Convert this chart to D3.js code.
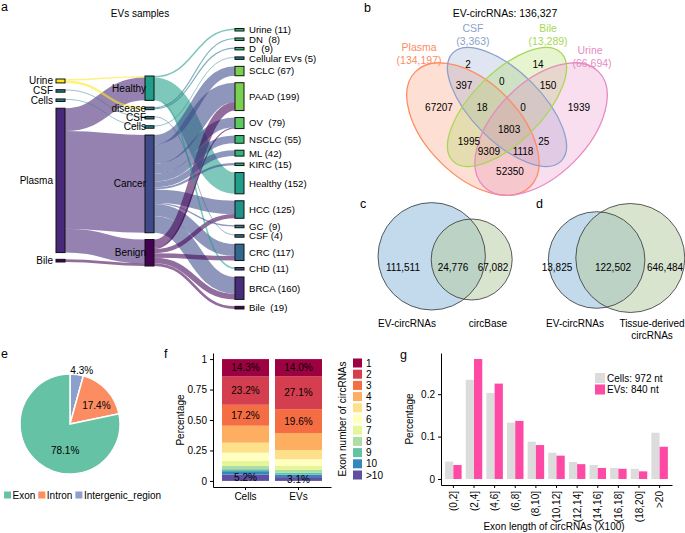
<!DOCTYPE html>
<html>
<head>
<meta charset="utf-8">
<script src="https://cdn.jsdelivr.net/npm/d3@7"></script>
<style>
  html, body { margin: 0; padding: 0; background: #fff; }
  svg { display: block; font-family: "Liberation Sans", Arial, Helvetica, sans-serif; }
  text { white-space: pre; fill: #000; }
</style>
</head>
<body>
<svg id="fig" width="685" height="533"></svg>
<script>
// ---------- a: EV samples (sankey) ----------
const sankeyLeft = ['Urine', 'CSF', 'Cells', 'Plasma', 'Bile'];
const sankeyMiddle = ['Healthy', 'disease', 'CSF', 'Cells', 'Cancer', 'Benign'];
const sankeyRight = ['Urine (11)', 'DN  (8)', 'D  (9)', 'Cellular EVs (5)', 'SCLC (67)', 'PAAD (199)', 'OV  (79)',
	'NSCLC (55)', 'ML (42)', 'KIRC (15)', 'Healthy (152)', 'HCC (125)', 'GC  (9)', 'CSF (4)', 'CRC (117)',
	'CHD (11)', 'BRCA (160)', 'Bile  (19)'];
const flowsLeftMiddle = [
	['Urine', 'Healthy', 11], ['Urine', 'disease', 17], ['CSF', 'CSF', 4], ['Cells', 'Cells', 5],
	['Plasma', 'Healthy', 163], ['Plasma', 'Cancer', 698], ['Plasma', 'Benign', 170], ['Bile', 'Benign', 19],
];
const flowsMiddleRight = [
	['Healthy', 'Urine (11)', 11], ['Healthy', 'Healthy (152)', 152], ['Healthy', 'CHD (11)', 11],
	['disease', 'DN  (8)', 8], ['disease', 'D  (9)', 9], ['CSF', 'CSF (4)', 4], ['Cells', 'Cellular EVs (5)', 5],
	['Cancer', 'SCLC (67)', 67], ['Cancer', 'PAAD (199)', 140], ['Cancer', 'OV  (79)', 70], ['Cancer', 'NSCLC (55)', 55],
	['Cancer', 'ML (42)', 42], ['Cancer', 'KIRC (15)', 15], ['Cancer', 'HCC (125)', 95], ['Cancer', 'GC  (9)', 9],
	['Cancer', 'CRC (117)', 85], ['Cancer', 'BRCA (160)', 120],
	['Benign', 'PAAD (199)', 59], ['Benign', 'OV  (79)', 9], ['Benign', 'HCC (125)', 30], ['Benign', 'CRC (117)', 32],
	['Benign', 'BRCA (160)', 40], ['Benign', 'Bile  (19)', 19],
];

// ---------- b: 4-set venn ----------
const vennSets = ['Plasma', 'CSF', 'Bile', 'Urine'];
const vennSetSizes = ['(134,197)', '(3,363)', '(13,289)', '(66,694)'];
const vennRegionCounts = [2, 14, 397, 0, 150, 67207, 18, 0, 1939, 1803, 1995, 25, 9309, 1118, 52350];
const vennTotal = 'EV-circRNAs: 136,327';

// ---------- c, d: 2-set venns ----------
const vennCSets = ['EV-circRNAs', 'circBase'];
const vennCCounts = [111511, 24776, 67082];
const vennDSets = ['EV-circRNAs', 'Tissue-derived\ncircRNAs'];
const vennDCounts = [13825, 122502, 646484];

// ---------- e: genomic origin ----------
const originCategories = ['Exon', 'Intron', 'Intergenic_region'];
const originShares = [78.1, 17.4, 4.3];

// ---------- f: exon number ----------
const exonGroups = ['Cells', 'EVs'];
const exonNumberKeys = ['1', '2', '3', '4', '5', '6', '7', '8', '9', '10', '>10'];
const exonNumberCells = [0.143, 0.232, 0.172, 0.139, 0.082, 0.066, 0.043, 0.027, 0.016, 0.028, 0.052];
const exonNumberEVs = [0.140, 0.271, 0.196, 0.139, 0.076, 0.055, 0.033, 0.022, 0.016, 0.021, 0.031];
const exonLabelledKeys = ['1', '2', '3', '>10'];

// ---------- g: exon length ----------
const lengthBins = ['(0,2]', '(2,4]', '(4,6]', '(6,8]', '(8,10]', '(10,12]', '(12,14]', '(14,16]', '(16,18]', '(18,20]', '>20'];
const lengthCells = [0.041, 0.234, 0.203, 0.133, 0.088, 0.062, 0.040, 0.033, 0.026, 0.024, 0.109];
const lengthEVs = [0.033, 0.283, 0.225, 0.137, 0.080, 0.055, 0.035, 0.026, 0.024, 0.018, 0.076];
const lengthSeries = ['Cells: 972 nt', 'EVs: 840 nt'];

const svg = d3.select('#fig');

function letter(t, x, y) {
	svg.append('text').attr('x', x).attr('y', y).attr('font-size', 12.5).text(t);
}

function styleAxis(ax) {
	ax.attr('font-family', null).attr('font-size', 10);
	ax.selectAll('path, line').attr('stroke', '#000');
	ax.selectAll('text').attr('fill', '#000');
}

// ================= a =================
function drawSankey() {
	const g = svg.append('g');
	const k = d3.scaleLinear().domain([0, 1000]).range([0, 140]);
	const minH = 2.5;
	const nodeW = 9;

	const sumBy = (flows, idx, name) => d3.sum(flows.filter(f => f[idx] === name), f => f[2]);
	const leftVals = sankeyLeft.map(n => sumBy(flowsLeftMiddle, 0, n));
	const midVals = sankeyMiddle.map(n => Math.max(sumBy(flowsLeftMiddle, 1, n), sumBy(flowsMiddleRight, 0, n)));
	const rightVals = sankeyRight.map(n => sumBy(flowsMiddleRight, 1, n));

	const leftColors = ['#FDE725', '#2A788E', '#26828E', '#482878', '#440154'];
	const midColors = ['#1F9E89', '#2A788E', '#31688E', '#26828E', '#3E4A89', '#440154'];
	const rightColors = ['#35B779', '#35B779', '#35B779', '#2A788E', '#7AD151', '#7AD151', '#5EC962', '#3CBB75',
		'#2FB47C', '#22A884', '#1F9E89', '#21918C', '#2A788E', '#2C728E', '#31688E', '#3B528B', '#472D7B', '#440154'];

	function column(names, vals, colors, x0, top, bottom) {
		const hs = vals.map(v => Math.max(minH, k(v)));
		const gap = (bottom - top - d3.sum(hs)) / (names.length - 1);
		const nodes = {};
		let y = top;
		names.forEach((n, i) => {
			nodes[n] = { name: n, x0: x0, x1: x0 + nodeW, y0: y, y1: y + hs[i], color: colors[i] };
			y += hs[i] + gap;
		});
		return nodes;
	}

	const L = column(sankeyLeft, leftVals, leftColors, 56, 79, 262);
	const M = column(sankeyMiddle, midVals, midColors, 145, 76, 266);
	const R = column(sankeyRight, rightVals, rightColors, 235, 28.5, 309);

	const links = flowsLeftMiddle.map(f => ({ s: L[f[0]], t: M[f[1]], w: k(f[2]) }))
		.concat(flowsMiddleRight.map(f => ({ s: M[f[0]], t: R[f[1]], w: k(f[2]) })));

	// stack links inside nodes, ordered by the node at the other end
	const bySource = d3.group(links, d => d.s);
	bySource.forEach(ls => {
		ls.sort((a, b) => a.t.y0 - b.t.y0);
		let off = ls[0].s.y0;
		ls.forEach(l => { l.sy = off + l.w / 2; off += l.w; });
	});
	const byTarget = d3.group(links, d => d.t);
	byTarget.forEach(ls => {
		ls.sort((a, b) => a.s.y0 - b.s.y0);
		let off = ls[0].t.y0;
		ls.forEach(l => { l.ty = off + l.w / 2; off += l.w; });
	});

	const linkPath = d3.linkHorizontal();
	g.append('g').selectAll('path')
		.data(links.slice().sort((a, b) => b.w - a.w))
		.enter().append('path')
		.attr('d', d => linkPath({ source: [d.s.x1, d.sy], target: [d.t.x0, d.ty] }))
		.attr('fill', 'none')
		.attr('stroke', d => d.s.color)
		.attr('stroke-opacity', 0.58)
		.attr('stroke-width', d => Math.max(0.8, d.w));

	const allNodes = Object.values(L).concat(Object.values(M), Object.values(R));
	g.append('g').selectAll('rect')
		.data(allNodes)
		.enter().append('rect')
		.attr('x', d => d.x0)
		.attr('y', d => d.y0)
		.attr('width', nodeW)
		.attr('height', d => d.y1 - d.y0)
		.attr('fill', d => d.color)
		.attr('stroke', '#111')
		.attr('stroke-width', 1);

	const lab = g.append('g').attr('font-size', 10);
	Object.values(L).forEach(d => {
		lab.append('text').attr('x', d.x0 - 3).attr('y', (d.y0 + d.y1) / 2).attr('dy', '0.35em')
			.attr('text-anchor', 'end').text(d.name);
	});
	Object.values(M).forEach(d => {
		lab.append('text').attr('x', d.x0 + 1).attr('y', (d.y0 + d.y1) / 2).attr('dy', '0.35em')
			.attr('text-anchor', 'end').text(d.name);
	});
	Object.values(R).forEach(d => {
		lab.append('text').attr('x', d.x1 + 5).attr('y', (d.y0 + d.y1) / 2).attr('dy', '0.35em')
			.attr('font-size', 9.6).text(d.name);
	});

	svg.append('text').attr('x', 140).attr('y', 17).attr('text-anchor', 'middle').attr('font-size', 10)
		.text('EVs samples');
}

// ================= b =================
function drawVennB() {
	const g = svg.append('g');
	// unit square of the classic 4-ellipse layout
	const ux = d3.scaleLinear().domain([0, 1]).range([391, 623]);
	const uy = d3.scaleLinear().domain([0, 1]).range([-9, 223]);
	const u = 232;
	const colors = ['#FC8D62', '#8DA0CB', '#A6D854', '#E78AC3'];
	const shapes = [
		{ cx: 0.353, cy: 0.595, a: 0.35, b: 0.20, rot: 45 },
		{ cx: 0.5, cy: 0.5, a: 0.33, b: 0.15, rot: 45 },
		{ cx: 0.5, cy: 0.5, a: 0.33, b: 0.15, rot: -45 },
		{ cx: 0.647, cy: 0.595, a: 0.35, b: 0.20, rot: -45 },
	];
	const ell = sel => sel
		.attr('cx', d => ux(d.cx)).attr('cy', d => uy(d.cy))
		.attr('rx', d => d.a * u).attr('ry', d => d.b * u)
		.attr('transform', d => `rotate(${d.rot},${ux(d.cx)},${uy(d.cy)})`);

	g.append('g').selectAll('ellipse').data(shapes).enter().append('ellipse').call(ell)
		.attr('fill', (d, i) => colors[i]).attr('fill-opacity', 0.28).attr('stroke', 'none');
	g.append('g').selectAll('ellipse').data(shapes).enter().append('ellipse').call(ell)
		.attr('fill', 'none').attr('stroke', (d, i) => colors[i]).attr('stroke-width', 1.3);

	const regionPos = [[0.332, 0.315], [0.634, 0.315], [0.315, 0.409], [0.478, 0.388], [0.677, 0.409],
		[0.207, 0.5], [0.392, 0.5], [0.569, 0.5], [0.81, 0.5], [0.509, 0.599], [0.336, 0.647],
		[0.659, 0.647], [0.422, 0.69], [0.569, 0.69], [0.513, 0.78]];
	g.append('g').attr('font-size', 10).selectAll('text').data(vennRegionCounts).enter().append('text')
		.attr('x', (d, i) => ux(regionPos[i][0])).attr('y', (d, i) => uy(regionPos[i][1]))
		.attr('dy', '0.35em').attr('text-anchor', 'middle').text(d => d);

	const setPos = [[0.121, 0.241], [0.353, 0.159], [0.677, 0.159], [0.858, 0.254]];
	vennSets.forEach((s, i) => {
		const t = g.append('text').attr('text-anchor', 'middle').attr('font-size', 10.5)
			.style('fill', colors[i]);
		t.append('tspan').attr('x', ux(setPos[i][0])).attr('y', uy(setPos[i][1])).attr('dy', '0.35em').text(s);
		t.append('tspan').attr('x', ux(setPos[i][0]) + (i === 3 ? 2 : 0)).attr('y', uy(setPos[i][1]) + 13)
			.attr('dy', '0.35em').text(vennSetSizes[i]);
	});
	svg.append('text').attr('x', 505).attr('y', 17).attr('text-anchor', 'middle').attr('font-size', 10.5)
		.text(vennTotal);
}

// ================= c, d =================
function drawVenn2(sets, counts, circles, countX, labelX) {
	const g = svg.append('g');
	const fills = ['#86B6D8', '#B3C9A0'];
	g.selectAll('circle.f').data(circles).enter().append('circle')
		.attr('cx', d => d[0]).attr('cy', d => d[1]).attr('r', d => d[2])
		.attr('fill', (d, i) => fills[i]).attr('fill-opacity', 0.5);
	g.selectAll('circle.s').data(circles).enter().append('circle')
		.attr('cx', d => d[0]).attr('cy', d => d[1]).attr('r', d => d[2])
		.attr('fill', 'none').attr('stroke', '#333').attr('stroke-width', 0.8);
	const fmt = d3.format(',');
	g.selectAll('text.n').data(counts).enter().append('text')
		.attr('x', (d, i) => countX[i]).attr('y', 267).attr('dy', '0.35em')
		.attr('text-anchor', 'middle').attr('font-size', 10).text(d => fmt(d));
	sets.forEach((s, i) => {
		const t = g.append('text').attr('text-anchor', 'middle').attr('font-size', 10);
		s.split('\n').forEach((line, j) => {
			t.append('tspan').attr('x', labelX[i]).attr('y', 327 + j * 12).text(line);
		});
	});
}

// ================= e =================
function drawPie() {
	const g = svg.append('g').attr('transform', 'translate(70,424)');
	const colors = d3.scaleOrdinal(originCategories, ['#66C2A5', '#FC8D62', '#8DA0CB']);
	const rows = originCategories.map((c, i) => ({ c: c, v: originShares[i] })).reverse();
	const arcs = d3.pie().sort(null).value(d => d.v)(rows);
	const arc = d3.arc().innerRadius(0).outerRadius(50);
	g.selectAll('path').data(arcs).enter().append('path')
		.attr('d', arc).attr('fill', d => colors(d.data.c)).attr('stroke', '#fff').attr('stroke-width', 1.5);
	// label radius and angle nudge per slice (intergenic, intron, exon)
	const labelR = [55, 32, 27];
	const labelNudge = [0.08, 0.15, -0.5];
	g.selectAll('text').data(arcs).enter().append('text')
		.attr('transform', (d, i) => {
			const a = (d.startAngle + d.endAngle) / 2 + labelNudge[i];
			return `translate(${Math.sin(a) * labelR[i]},${-Math.cos(a) * labelR[i]})`;
		})
		.attr('dy', '0.35em').attr('text-anchor', 'middle').attr('font-size', 10)
		.text(d => d.data.v + '%');

	// legend
	const lg = svg.append('g').attr('transform', 'translate(4,495)').attr('font-size', 10);
	let x = 0;
	originCategories.forEach(c => {
		lg.append('rect').attr('x', x).attr('y', -3.5).attr('width', 7).attr('height', 7).attr('fill', colors(c));
		const t = lg.append('text').attr('x', x + 8.5).attr('dy', '0.35em').text(c);
		x += 8.5 + t.node().getComputedTextLength() + 3;
	});
}

// ================= f =================
function drawExonNumber() {
	const g = svg.append('g');
	const x = d3.scaleBand().domain(exonGroups).range([213, 331]).paddingInner(0.113).paddingOuter(0.17);
	const y = d3.scaleLinear().domain([-0.05, 1.05]).range([487, 353]);
	const color = d3.scaleOrdinal(exonNumberKeys, d3.schemeSpectral[11]);
	const shares = [exonNumberCells, exonNumberEVs];
	const rows = exonGroups.map((grp, gi) => {
		const o = { group: grp };
		exonNumberKeys.forEach((kk, ki) => { o[kk] = shares[gi][ki]; });
		return o;
	});
	const series = d3.stack().keys(exonNumberKeys.slice().reverse())(rows);

	g.append('g').selectAll('g').data(series).enter().append('g')
		.attr('fill', d => color(d.key))
		.selectAll('rect').data(d => d).enter().append('rect')
		.attr('x', d => x(d.data.group)).attr('width', x.bandwidth())
		.attr('y', d => y(d[1])).attr('height', d => y(d[0]) - y(d[1]));

	const fmt = d3.format('.1%');
	series.filter(s => exonLabelledKeys.includes(s.key)).forEach(s => {
		g.append('g').selectAll('text').data(s).enter().append('text')
			.attr('x', d => x(d.data.group) + x.bandwidth() / 2)
			.attr('y', d => y((d[0] + d[1]) / 2)).attr('dy', '0.35em')
			.attr('text-anchor', 'middle').attr('font-size', 10)
			.text(d => fmt(d.data[s.key]));
	});

	const yAx = g.append('g').attr('transform', 'translate(213,0)')
		.call(d3.axisLeft(y).tickValues([0, 0.25, 0.5, 0.75, 1]).tickSize(3).tickSizeOuter(0)
			.tickFormat(d => (d === 0 || d === 1) ? String(d) : d3.format('.2f')(d)));
	styleAxis(yAx);
	const xAx = g.append('g').attr('transform', 'translate(0,487)')
		.call(d3.axisBottom(x).tickSize(3).tickSizeOuter(0));
	styleAxis(xAx);

	g.append('text').attr('transform', 'translate(180,420) rotate(-90)').attr('text-anchor', 'middle')
		.attr('dy', '0.35em').attr('font-size', 10).text('Percentage');

	// legend
	g.append('text').attr('transform', 'translate(342,419) rotate(-90)').attr('text-anchor', 'middle')
		.attr('dy', '0.35em').attr('font-size', 10).text('Exon number of circRNAs');
	const ly = d3.scalePoint().domain(exonNumberKeys).range([363, 475]);
	const lg = g.append('g');
	lg.selectAll('rect').data(exonNumberKeys).enter().append('rect')
		.attr('x', 353).attr('y', d => ly(d) - 4.5).attr('width', 9).attr('height', 9).attr('fill', d => color(d));
	lg.selectAll('text').data(exonNumberKeys).enter().append('text')
		.attr('x', 366).attr('y', d => ly(d)).attr('dy', '0.35em').attr('font-size', 10).text(d => d);
}

// ================= g =================
function drawExonLength() {
	const g = svg.append('g');
	const x = d3.scaleBand().domain(lengthBins).range([441, 672]).paddingInner(0.2).paddingOuter(0.2);
	const x1 = d3.scaleBand().domain(lengthSeries).range([0, x.bandwidth()]);
	const y = d3.scaleLinear().domain([-0.0142, 0.2972]).range([485, 353]);
	const color = d3.scaleOrdinal(lengthSeries, ['#DCDCDC', '#FF4AA5']);
	const rows = lengthBins.map((b, i) => ({ bin: b, vals: [lengthCells[i], lengthEVs[i]] }));

	g.append('g').selectAll('g').data(rows).enter().append('g')
		.attr('transform', d => `translate(${x(d.bin)},0)`)
		.selectAll('rect').data(d => d.vals.map((v, i) => ({ s: lengthSeries[i], v: v })))
		.enter().append('rect')
		.attr('x', d => x1(d.s)).attr('width', x1.bandwidth())
		.attr('y', d => y(d.v)).attr('height', d => y(0) - y(d.v))
		.attr('fill', d => color(d.s));

	const yAx = g.append('g').attr('transform', 'translate(441,0)')
		.call(d3.axisLeft(y).tickValues([0, 0.1, 0.2]).tickSize(3).tickSizeOuter(0)
			.tickFormat(d => d === 0 ? '0' : d3.format('.1f')(d)));
	styleAxis(yAx);
	const xAx = g.append('g').attr('transform', 'translate(0,485)')
		.call(d3.axisBottom(x).tickSize(3).tickSizeOuter(0));
	styleAxis(xAx);
	xAx.selectAll('text').attr('transform', 'rotate(-90)').attr('text-anchor', 'end')
		.attr('x', -6).attr('y', 0).attr('dy', '0.35em');

	g.append('text').attr('transform', 'translate(409,419) rotate(-90)').attr('text-anchor', 'middle')
		.attr('dy', '0.35em').attr('font-size', 10).text('Percentage');
	g.append('text').attr('x', 554).attr('y', 530).attr('text-anchor', 'middle').attr('font-size', 10)
		.text('Exon length of circRNAs (X100)');

	const ly = d3.scalePoint().domain(lengthSeries).range([378, 389.5]);
	const lg = g.append('g');
	lg.selectAll('rect').data(lengthSeries).enter().append('rect')
		.attr('x', 595).attr('y', d => ly(d) - 5).attr('width', 10).attr('height', 10).attr('fill', d => color(d));
	lg.selectAll('text').data(lengthSeries).enter().append('text')
		.attr('x', 607).attr('y', d => ly(d)).attr('dy', '0.35em').attr('font-size', 10).text(d => d);
}

drawSankey();
drawVennB();
drawVenn2(vennCSets, vennCCounts, [[431.7, 256.3, 53.7], [471.7, 259.5, 40.5]], [403, 453, 493], [407, 488]);
drawVenn2(vennDSets, vennDCounts, [[596.6, 260, 48.3], [630.3, 258, 54.5]], [557, 613, 665], [575, 652]);
drawPie();
drawExonNumber();
drawExonLength();

letter('a', 1, 11);
letter('b', 364, 12);
letter('c', 360, 208);
letter('d', 536, 208);
letter('e', 1, 358);
letter('f', 164, 358);
letter('g', 400, 359);
</script>
</body>
</html>
